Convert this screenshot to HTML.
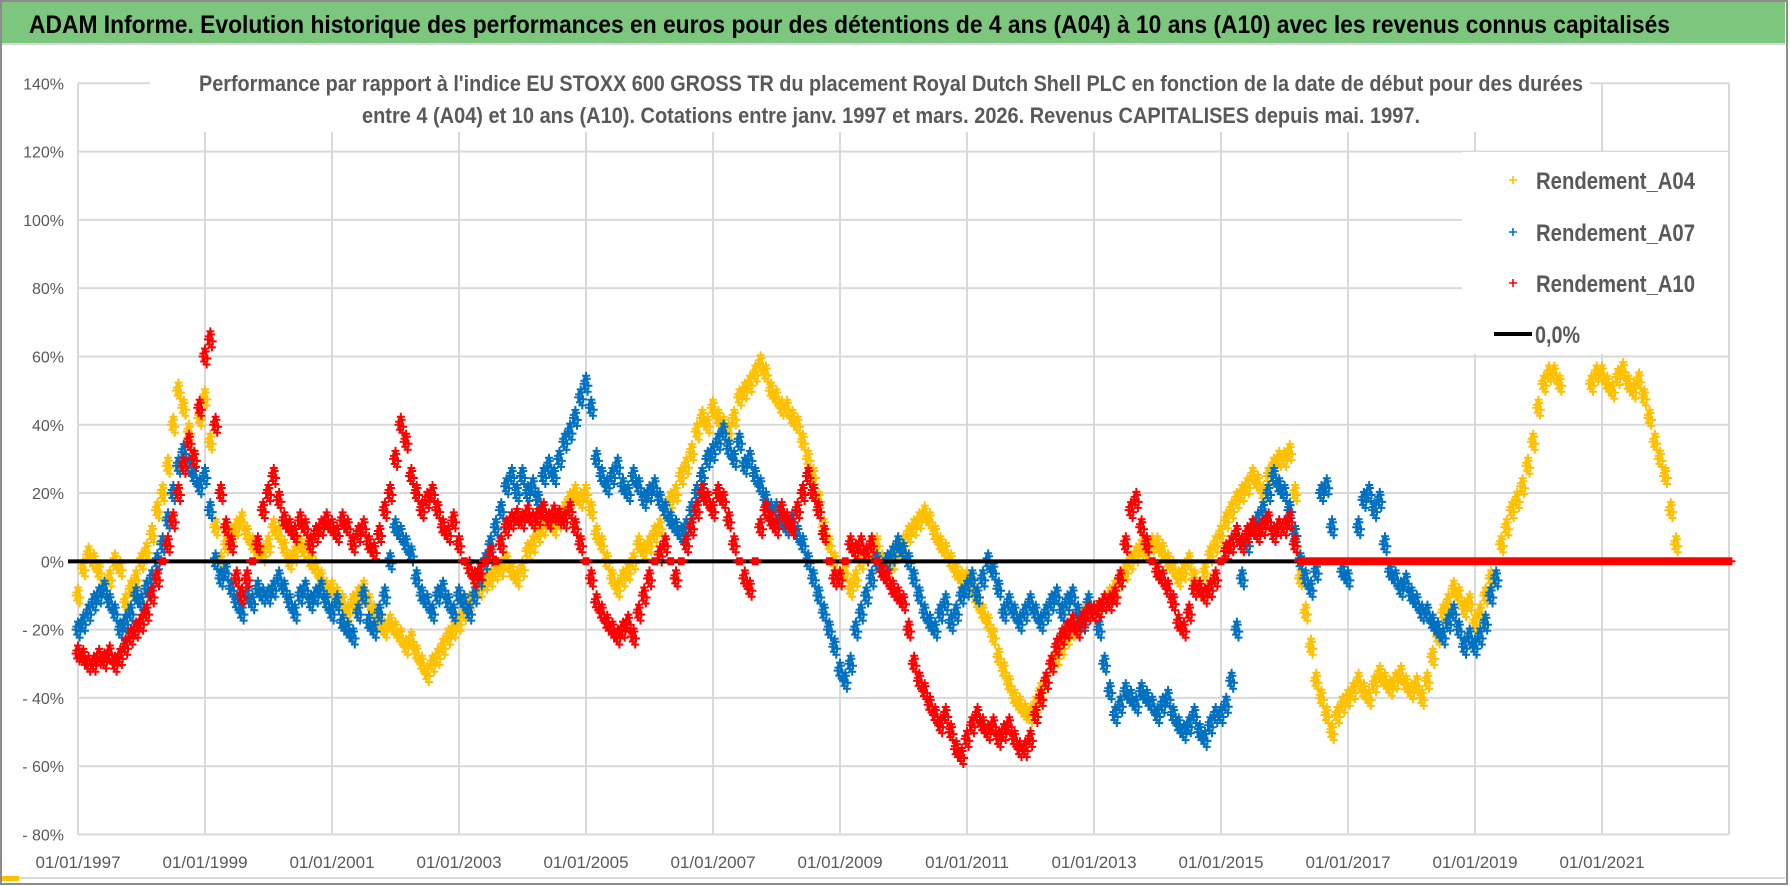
<!DOCTYPE html>
<html><head><meta charset="utf-8"><style>
html,body{margin:0;padding:0;background:#fff;}
svg{display:block;font-family:"Liberation Sans",sans-serif;}
</style></head><body>
<svg id="chart" width="1790" height="886" viewBox="0 0 1790 886">
<rect x="0" y="0" width="1790" height="886" fill="#fff"/>
<rect x="1" y="1" width="1786" height="883" fill="none" stroke="#8c8c8c" stroke-width="2"/>
<rect x="2" y="2" width="1783" height="41" fill="#7dc67e"/>
<line x1="2" y1="44" x2="1785" y2="44" stroke="#d9d9d9" stroke-width="2"/>
<text x="29" y="33" font-size="25" font-weight="bold" fill="#000" textLength="1641" lengthAdjust="spacingAndGlyphs">ADAM Informe. Evolution historique des performances en euros pour des détentions de 4 ans (A04) à 10 ans (A10) avec les revenus connus capitalisés</text>
<line x1="4" y1="878" x2="1785" y2="878" stroke="#d9d9d9" stroke-width="2"/>
<rect x="2" y="876" width="17" height="5" fill="#ffc000"/>
<g id="grid"></g>
<g id="ylabels"></g>
<g id="xlabels"></g>
<g id="marks"></g>
<rect x="1462" y="152" width="266" height="202" fill="#fff"/>
<rect x="150" y="64" width="1440" height="68" fill="#fff"/>
<text x="199" y="91" font-size="22" font-weight="bold" fill="#595959" textLength="1384" lengthAdjust="spacingAndGlyphs">Performance par rapport à l'indice EU STOXX 600 GROSS TR  du placement Royal Dutch Shell PLC en fonction de la date de début pour des durées</text>
<text x="362" y="123" font-size="22" font-weight="bold" fill="#595959" textLength="1058" lengthAdjust="spacingAndGlyphs">entre 4 (A04) et 10 ans (A10).  Cotations entre janv. 1997 et mars. 2026. Revenus CAPITALISES  depuis mai. 1997.</text>
<g>
 <g><path d="M1509 180h8M1513 176v8" stroke="#ffc000" stroke-width="1.6"/><text x="1536" y="189" font-size="24" font-weight="bold" fill="#595959" textLength="159" lengthAdjust="spacingAndGlyphs">Rendement_A04</text></g>
 <g><path d="M1509 232h8M1513 228v8" stroke="#0070c0" stroke-width="1.6"/><text x="1536" y="241" font-size="24" font-weight="bold" fill="#595959" textLength="159" lengthAdjust="spacingAndGlyphs">Rendement_A07</text></g>
 <g><path d="M1509 283h8M1513 279v8" stroke="#ff0000" stroke-width="1.6"/><text x="1536" y="292" font-size="24" font-weight="bold" fill="#595959" textLength="159" lengthAdjust="spacingAndGlyphs">Rendement_A10</text></g>
 <g><line x1="1494" y1="334" x2="1532" y2="334" stroke="#000" stroke-width="4"/><text x="1535" y="343" font-size="24" font-weight="bold" fill="#595959" textLength="45" lengthAdjust="spacingAndGlyphs">0,0%</text></g>
</g>
</svg>
<script>
// ---- data (monthly values, % ; first month = Jan 1997) ----
const startYear = 1997;
const yTicks = [140,120,100,80,60,40,20,0,-20,-40,-60,-80];
const yTickLabels = ["140%","120%","100%","80%","60%","40%","20%","0%","- 20%","- 40%","- 60%","- 80%"];
const xTickYears = [1997,1999,2001,2003,2005,2007,2009,2011,2013,2015,2017,2019,2021];
const xTickLabels = ["01/01/1997","01/01/1999","01/01/2001","01/01/2003","01/01/2005","01/01/2007","01/01/2009","01/01/2011","01/01/2013","01/01/2015","01/01/2017","01/01/2019","01/01/2021"];
const a04 = [
-10,-2,2,0,-3,-8,-5,0,-2,-12,-8,-5,
0,3,8,15,20,28,40,50,45,38,30,42,
48,35,10,0,5,8,10,12,8,5,3,2,
5,10,8,4,0,2,5,3,0,-2,-5,-8,
-8,-10,-12,-15,-12,-10,-8,-12,-15,-18,-20,-18,
-20,-22,-25,-23,-27,-30,-33,-30,-28,-25,-22,-20,
-18,-15,-12,-10,-8,-6,-5,-3,-2,0,-3,-5,
-2,3,5,8,10,12,10,12,15,18,20,18,
20,15,8,5,0,-5,-8,-5,-3,0,5,3,
5,8,10,15,18,20,25,28,32,38,42,40,
45,42,40,38,42,48,50,52,55,58,55,50,
48,45,45,42,40,35,30,25,18,10,5,0,
-5,-3,-8,-5,0,2,3,5,0,-2,0,3,
5,8,10,12,14,12,8,5,3,0,-3,-5,
-5,-8,-12,-15,-18,-22,-28,-32,-36,-40,-42,-44,
-45,-42,-38,-35,-30,-28,-25,-22,-20,-18,-16,-15,
-15,-14,-12,-10,-8,-5,-3,0,2,4,3,5,
5,3,0,-2,-5,-3,0,-5,-8,-3,2,5,
8,12,15,18,20,22,25,23,20,25,28,30,
30,32,20,-5,-15,-25,-35,-40,-45,-50,-45,-42,
-40,-38,-35,-38,-40,-36,-33,-35,-37,-35,-33,-36,
-38,-36,-40,-35,-28,-22,-15,-12,-8,-10,-14,-12,
-18,-15,-10,-5,0,5,10,15,18,22,28,35,
45,52,55,55,52,0,0,0,0,0,52,55,
55,52,50,54,56,52,50,53,48,42,35,30,
25,15,5,0,0,0,0,0,0,0,0,0
];
const a07 = [
-20,-18,-15,-12,-10,-8,-12,-15,-20,-18,-15,-10,
-12,-8,-5,0,5,12,20,28,32,28,25,22,
25,15,0,-5,-3,-8,-12,-15,-10,-12,-8,-10,
-10,-8,-5,-8,-12,-15,-10,-8,-12,-10,-8,-12,
-15,-12,-18,-20,-22,-15,-10,-18,-20,-15,-10,0,
10,8,5,2,-5,-10,-12,-15,-10,-8,-12,-15,
-10,-12,-15,-10,-5,0,5,10,15,22,25,20,
25,20,22,18,25,28,25,30,35,38,42,48,
52,45,30,25,22,25,28,22,20,25,22,18,
20,22,18,15,12,10,8,10,15,20,25,30,
32,35,38,33,30,35,28,30,25,22,18,15,
15,12,10,12,8,5,0,-5,-10,-15,-20,-25,
-32,-35,-30,-20,-15,-10,-5,0,-3,0,2,5,
3,0,-5,-10,-15,-18,-20,-15,-12,-18,-15,-10,
-8,-5,-10,-5,0,-3,-8,-15,-12,-15,-18,-15,
-12,-15,-18,-15,-12,-10,-15,-12,-10,-15,-18,-12,
-15,-20,-30,-38,-45,-42,-38,-40,-42,-38,-40,-42,
-45,-42,-40,-45,-48,-50,-48,-45,-50,-52,-48,-45,
-45,-42,-35,-20,-5,5,10,12,15,20,25,22,
20,15,8,0,-5,-8,-3,20,22,10,0,-3,
-5,0,10,18,20,15,18,5,-3,-5,-8,-6,
-10,-12,-15,-15,-18,-20,-22,-18,-15,-20,-25,-22,
-25,-22,-18,-10,-5,0,0
];
const a10 = [
-27,-28,-30,-30,-28,-29,-27,-30,-28,-25,-22,-20,
-18,-15,-10,-5,0,5,12,20,28,35,30,45,
60,65,40,20,10,5,-5,-10,-5,0,5,15,
20,25,18,12,10,8,12,10,5,8,10,12,
10,8,12,10,5,8,10,5,3,8,15,20,
30,40,35,25,20,15,18,20,15,10,8,12,
5,0,-2,-5,-3,0,2,0,5,10,12,13,
12,14,12,13,15,12,14,13,12,15,10,5,
0,-5,-12,-15,-18,-20,-22,-20,-18,-22,-15,-10,
-5,0,2,5,0,-5,0,5,10,15,20,18,
15,20,18,12,5,0,-5,-8,0,10,15,12,
10,15,12,10,15,20,25,20,15,8,0,-5,
-5,0,5,3,5,2,5,0,-3,-5,-8,-10,
-12,-20,-30,-35,-38,-42,-45,-48,-45,-50,-55,-57,
-52,-48,-45,-48,-50,-48,-52,-50,-48,-52,-55,-55,
-52,-45,-40,-35,-30,-25,-22,-20,-18,-20,-17,-15,
-15,-14,-12,-12,-10,-5,5,15,18,10,5,0,
-3,-5,-8,-12,-18,-20,-15,-8,-8,-10,-8,-5,
0,3,5,8,5,8,10,8,10,12,8,10,
10,12,5,0,0,0,0,0,0,0,0,0,
0,0,0,0,0,0,0,0,0,0,0,0,
0,0,0,0,0,0,0,0,0,0,0,0,
0,0,0,0,0,0,0,0,0,0,0,0,
0,0,0,0,0,0,0,0,0,0,0,0,
0,0,0,0,0,0,0,0,0,0,0,0,
0,0,0,0,0,0,0,0,0,0,0,0,
0
];
const zeroLine = [0, 0];

// ---- axes ----
const X0 = 78, X1 = 1729, Y_TOP = 83.3, Y_BOT = 834.5;
const yearMin = 1997, yearMax = 2023, vMin = -80, vMax = 140;
function xScale(year){ return X0 + (year - yearMin) / (yearMax - yearMin) * (X1 - X0); }
function yScale(v){ return Y_BOT - (v - vMin) / (vMax - vMin) * (Y_BOT - Y_TOP); }
function monthYear(i){ return startYear + i / 12; }

const NS = "http://www.w3.org/2000/svg";
const grid = document.getElementById('grid');
const ylab = document.getElementById('ylabels');
const xlab = document.getElementById('xlabels');
const marks = document.getElementById('marks');

yTicks.forEach((t, i) => {
  const y = yScale(t);
  const ln = document.createElementNS(NS, 'line');
  ln.setAttribute('x1', X0); ln.setAttribute('x2', X1);
  ln.setAttribute('y1', y); ln.setAttribute('y2', y);
  ln.setAttribute('stroke', '#d9d9d9'); ln.setAttribute('stroke-width', '2');
  
  
  grid.appendChild(ln);
  const tx = document.createElementNS(NS, 'text');
  tx.setAttribute('x', 64); tx.setAttribute('y', y + 6);
  tx.setAttribute('text-anchor', 'end'); tx.setAttribute('font-size', '16');
  tx.setAttribute('fill', '#595959');
  tx.textContent = yTickLabels[i];
  
  
  ylab.appendChild(tx);
});
const xGridYears = xTickYears.concat([2023]);
xGridYears.forEach((yr) => {
  const x = xScale(yr);
  const ln = document.createElementNS(NS, 'line');
  ln.setAttribute('x1', x); ln.setAttribute('x2', x);
  ln.setAttribute('y1', Y_TOP); ln.setAttribute('y2', Y_BOT);
  ln.setAttribute('stroke', '#d9d9d9'); ln.setAttribute('stroke-width', '2');
  
  
  grid.appendChild(ln);
});
xTickYears.forEach((yr, i) => {
  const tx = document.createElementNS(NS, 'text');
  tx.setAttribute('x', xScale(yr)); tx.setAttribute('y', 868);
  tx.setAttribute('text-anchor', 'middle'); tx.setAttribute('font-size', '17');
  tx.setAttribute('fill', '#595959');
  tx.textContent = xTickLabels[i];
  
  
  xlab.appendChild(tx);
});

// marker cluster shape (pixel offsets of a '+' glyph group drawn at each value)
const clusterDx = [-2.4, -0.8, 0.8, 2.4, 0, -1.6, 1.6];
const clusterDy = [0, 5, -5, 2, -8, -3, 8];
function drawSeries(values, color, name, filter, spread){
  const g = document.createElementNS(NS, 'g');
  
  
  let d = '';
  values.forEach((v, i) => {
    if (filter && !filter(v, i)) return;
    const x = xScale(monthYear(i)), y = yScale(v);
    for (let k = 0; k < clusterDx.length; k++) {
      const cx = x + clusterDx[k], cy = y + clusterDy[k] * spread;
      d += 'M' + (cx - 4).toFixed(1) + ' ' + cy.toFixed(1) + 'h8M' + cx.toFixed(1) + ' ' + (cy - 4).toFixed(1) + 'v8';
    }
  });
  const p = document.createElementNS(NS, 'path');
  p.setAttribute('d', d);
  p.setAttribute('stroke', color); p.setAttribute('stroke-width', '2'); p.setAttribute('fill', 'none');
  
  
  g.appendChild(p);
  marks.appendChild(g);
}
// values of exactly 0 after the red series ends are hidden under the red zero markers
const hiddenFromIndex = 232;
drawSeries(a04, '#ffc000', 'series-a04', (v, i) => !(v === 0 && i >= hiddenFromIndex), 1);
drawSeries(a07, '#0070c0', 'series-a07', (v, i) => !(v === 0 && i >= hiddenFromIndex), 1);
drawSeries(a10, '#ff0000', 'series-a10', v => v !== 0, 1);
const zl = document.createElementNS(NS, 'line');
zl.setAttribute('x1', X0 - 10); zl.setAttribute('x2', X1 - 10);
zl.setAttribute('y1', yScale(zeroLine[0])); zl.setAttribute('y2', yScale(zeroLine[1]));
zl.setAttribute('stroke', '#000'); zl.setAttribute('stroke-width', '4');


marks.appendChild(zl);
drawSeries(a10, '#ff0000', 'series-a10-zero', v => v === 0, 0);
</script>
</body></html>
